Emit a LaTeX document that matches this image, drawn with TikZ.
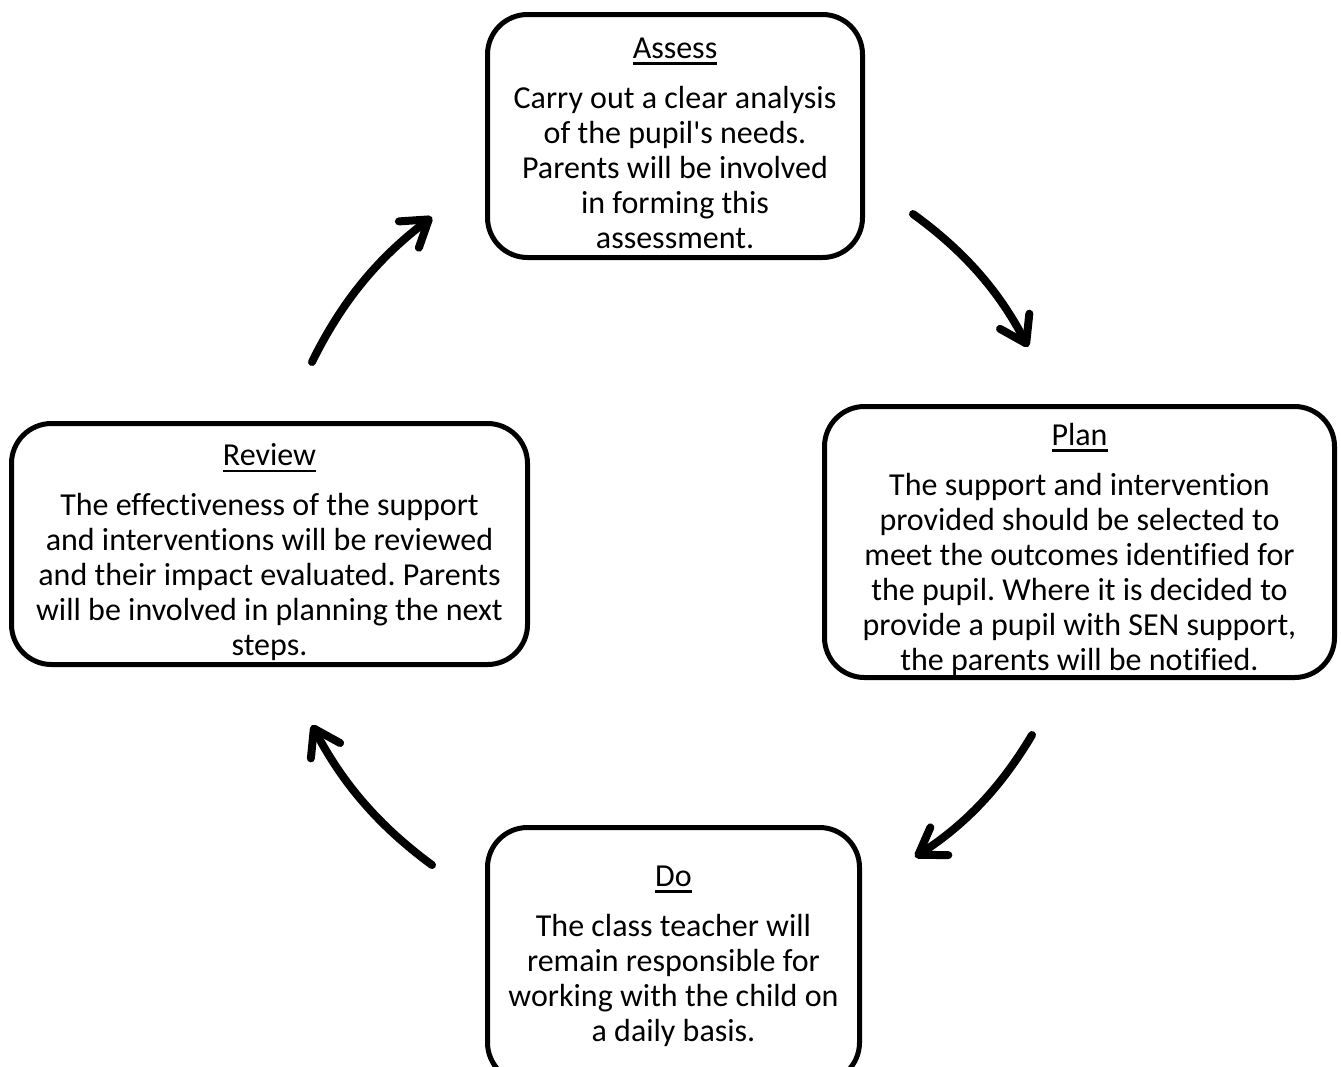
\documentclass[tikz,border=0pt]{standalone}
\usepackage{fontspec}
\setmainfont{Carlito}[Ligatures={TeXOff,CommonOff}]
\usetikzlibrary{arrows.meta}
\frenchspacing
\newcommand\boxtitle[1]{\vtop{\hbox{#1}\kern4pt\hrule height 2.5pt}}
\begin{document}
\begin{tikzpicture}[x=1pt,y=-1pt,
  stage/.style={draw, line width=5pt, rounded corners=40pt},
  stagetext/.style={align=center, inner sep=0pt, font=\fontsize{32}{35}\selectfont\frenchspacing},
  cyc/.style={line width=8pt, line cap=round,
    -{Straight Barb[length=25pt,width=33pt,round]}}
]
\fill[white] (0,0) rectangle (1341,1066);
\useasboundingbox (0,0) rectangle (1341,1066);

\node[stage, minimum width=375pt, minimum height=243pt] (assess) at (675,136) {};
\node[stagetext] (assesstext) at (675,143)
  {\boxtitle{Assess}\\[15pt]
   Carry out a clear analysis\\
   of the pupil's needs.\\
   Parents will be involved\\
   in forming this\\
   assessment.};

\node[stage, minimum width=510pt, minimum height=271pt] (plan) at (1079.5,542) {};
\node[stagetext] (plantext) at (1079.5,549)
  {\boxtitle{Plan}\\[15pt]
   The support and intervention\\
   provided should be selected to\\
   meet the outcomes identified for\\
   the pupil. Where it is decided to\\
   provide a pupil with SEN support,\\
   the parents will be notified.};

\node[stage, minimum width=516pt, minimum height=241pt] (review) at (269.5,544) {};
\node[stagetext] (reviewtext) at (269.5,552)
  {\boxtitle{Review}\\[15pt]
   The effectiveness of the support\\
   and interventions will be reviewed\\
   and their impact evaluated. Parents\\
   will be involved in planning the next\\
   steps.};

\node[stage, minimum width=372pt, minimum height=255pt] (do) at (673.5,955) {};
\node[stagetext] (dotext) at (673.5,956)
  {\boxtitle{Do}\\[15pt]
   The class teacher will\\
   remain responsible for\\
   working with the child on\\
   a daily basis.};

\coordinate (a1s) at (913,214);
\coordinate (a1e) at (1028,347);
\coordinate (a2s) at (1032,735);
\coordinate (a2e) at (915,857);
\coordinate (a3s) at (432,865);
\coordinate (a3e) at (312,725);
\coordinate (a4s) at (312,362);
\coordinate (a4e) at (432,217);

\draw[cyc] (a1s) .. controls (964,251) and (999,291) .. (a1e);
\draw[cyc] (a2s) .. controls (1001,787) and (966,824) .. (a2e);
\draw[cyc] (a3s) .. controls (379,826) and (343,784) .. (a3e);
\draw[cyc] (a4s) .. controls (342,301) and (378,258) .. (a4e);
\end{tikzpicture}
\end{document}
